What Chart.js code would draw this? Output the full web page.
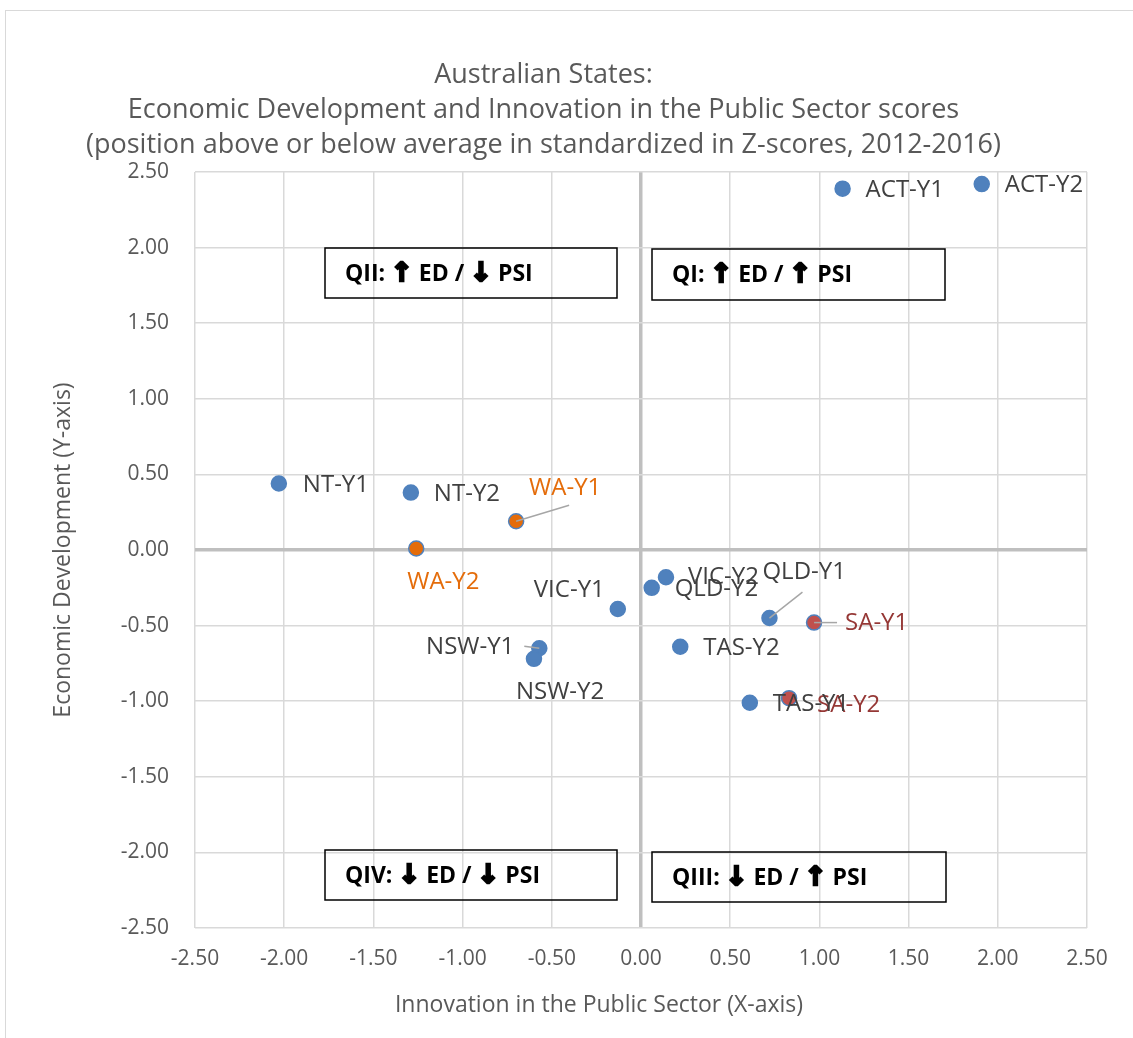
<!DOCTYPE html>
<html>
<head>
<meta charset="utf-8">
<script src="https://cdn.jsdelivr.net/npm/chart.js@4.4.0/dist/chart.umd.min.js"></script>
<style>
    html, body { margin: 0; padding: 0; background: #fff; overflow: hidden; }
    #frame { position: absolute; left: 5px; top: 10px; width: 1200px; height: 1100px; border: 1px solid #d9d9d9; }
    #wrap { position: absolute; left: 0; top: 0; width: 1133px; height: 1038px; }
</style>
</head>
<body>
<div id="frame"></div>
<div id="wrap"><canvas id="quadChart" width="1133" height="1038"></canvas></div>
<script>
// ================= DATA =================
const stateLabels = [
    "ACT-Y1","ACT-Y2","NT-Y1","NT-Y2","WA-Y1","WA-Y2","NSW-Y1","NSW-Y2",
    "VIC-Y1","VIC-Y2","QLD-Y1","QLD-Y2","SA-Y1","SA-Y2","TAS-Y1","TAS-Y2"
];
// Innovation in the Public Sector (x)
const innovationScores = [1.13, 1.91, -2.03, -1.29, -0.70, -1.26, -0.57, -0.60,
                          -0.13, 0.14, 0.72, 0.06, 0.97, 0.83, 0.61, 0.22];
// Economic Development (y)
const developmentScores = [2.39, 2.42, 0.44, 0.38, 0.19, 0.01, -0.65, -0.72,
                           -0.39, -0.18, -0.45, -0.25, -0.48, -0.98, -1.01, -0.64];
const axisTicks = [-2.5, -2.0, -1.5, -1.0, -0.5, 0, 0.5, 1.0, 1.5, 2.0, 2.5];
const titleLines = [
    "Australian States:",
    "Economic Development and Innovation in the Public Sector scores",
    "(position above or below average in standardized in Z-scores, 2012-2016)"
];
const quadrantTexts = ["QII: \u2191 ED / \u2193 PSI", "QI: \u2191 ED / \u2191 PSI",
                       "QIV: \u2193 ED / \u2193 PSI", "QIII: \u2193 ED / \u2191 PSI"];

// ================= STYLE =================
const BLUE = "#4f81bd";
const fillFor = (name) => name.startsWith("WA") ? "#e46c0a" : name.startsWith("SA") ? "#c0504d" : BLUE;
const textFor = (name) => name.startsWith("WA") ? "#e46c0a" : name.startsWith("SA") ? "#953735" : "#404040";

// label offset from the dot (px), optional leader line end
const labelPlacement = [
    { dx: 23, dy: 2 }, { dx: 23, dy: 1 }, { dx: 24, dy: 2 }, { dx: 23, dy: 2 },
    { dx: 13, dy: -33, leader: [53, -16] }, { dx: -9, dy: 34 },
    { dx: -25, dy: -1, align: "right", leader: [-15, -2] }, { dx: -18, dy: 33 },
    { dx: -13, dy: -19, align: "right" }, { dx: 22, dy: 0 },
    { dx: -7, dy: -46, leader: [33, -26] }, { dx: 23, dy: 1 },
    { dx: 31, dy: 1, leader: [23, 0] }, { dx: 28, dy: 7 },
    { dx: 23, dy: 1 }, { dx: 23, dy: 1 }
];
const quadrantBoxes = [
    { x: 325, y: 248, w: 292, h: 50 }, { x: 652, y: 249, w: 293, h: 51 },
    { x: 325, y: 850, w: 292, h: 50 }, { x: 652, y: 852, w: 294, h: 50 }
];

// ================= PLUGINS =================
const pointLabels = {
    id: "pointLabels",
    afterDatasetsDraw(chart) {
        const ctx = chart.ctx;
        const meta = chart.getDatasetMeta(0);
        ctx.save();
        ctx.font = "24px 'Open Sans'";
        ctx.textBaseline = "middle";
        meta.data.forEach((pt, i) => {
            const p = labelPlacement[i];
            if (p.leader) {
                ctx.strokeStyle = "#a6a6a6";
                ctx.lineWidth = 1.5;
                ctx.beginPath();
                ctx.moveTo(pt.x, pt.y);
                ctx.lineTo(pt.x + p.leader[0], pt.y + p.leader[1]);
                ctx.stroke();
            }
            ctx.fillStyle = textFor(stateLabels[i]);
            ctx.textAlign = p.align || "left";
            ctx.fillText(stateLabels[i], pt.x + p.dx, pt.y + p.dy);
        });
        ctx.restore();
    }
};

// draws text with the arrows heavier than the rest
function drawMixed(ctx, text, x, y) {
    const textFont = "bold 23px 'Open Sans'";
    const arrowFont = "bold 26px 'DejaVu Sans'";
    let cx = x;
    for (const ch of text) {
        const isArrow = ch === "\u2191" || ch === "\u2193";
        ctx.font = isArrow ? arrowFont : textFont;
        ctx.fillText(ch, cx, y);
        if (isArrow) {
            ctx.lineWidth = 2.5;
            ctx.strokeText(ch, cx, y);
        }
        cx += ctx.measureText(ch).width;
    }
}

const quadrantNotes = {
    id: "quadrantNotes",
    afterDraw(chart) {
        const ctx = chart.ctx;
        ctx.save();
        ctx.strokeStyle = "#000";
        ctx.fillStyle = "#000";
        ctx.textBaseline = "middle";
        ctx.textAlign = "left";
        quadrantBoxes.forEach((b, i) => {
            ctx.lineWidth = 1.5;
            ctx.strokeRect(b.x, b.y, b.w, b.h);
            drawMixed(ctx, quadrantTexts[i], b.x + 20, b.y + b.h / 2 + 1);
        });
        // x-axis title
        ctx.fillStyle = "#595959";
        ctx.font = "23px 'Open Sans'";
        ctx.textAlign = "center";
        ctx.fillText("Innovation in the Public Sector (X-axis)", 599, 1005);
        ctx.restore();
    }
};

// ================= CHART =================
const gridColor = (c) => c.tick && c.tick.value === 0 ? "#bfbfbf" : "#d9d9d9";
const gridWidth = (c) => c.tick && c.tick.value === 0 ? 3.5 : 1.5;
const setTicks = (scale) => { scale.ticks = axisTicks.map(v => ({ value: v })); };

new Chart(document.getElementById("quadChart"), {
    type: "scatter",
    data: {
        datasets: [{
            data: innovationScores.map((x, i) => ({ x: x, y: developmentScores[i] })),
            pointRadius: 7.5,
            pointHoverRadius: 7.5,
            pointBackgroundColor: stateLabels.map(fillFor),
            pointBorderColor: BLUE,
            pointBorderWidth: 1.5
        }]
    },
    options: {
        responsive: false,
        animation: false,
        devicePixelRatio: 1,
        layout: { padding: { left: 0, right: 46, top: 0, bottom: 0 } },
        plugins: {
            legend: { display: false },
            tooltip: { enabled: false },
            title: {
                display: true,
                text: titleLines,
                color: "#595959",
                font: { family: "'Open Sans'", size: 27, weight: "normal", lineHeight: 35 / 27 },
                padding: { top: 57.5, bottom: 9.5 }
            }
        },
        scales: {
            x: {
                type: "linear",
                min: -2.5, max: 2.5,
                afterBuildTicks: setTicks,
                afterFit: (s) => { s.height = 110; },
                grid: { color: gridColor, lineWidth: gridWidth, drawTicks: false },
                border: { display: false },
                ticks: {
                    color: "#595959",
                    font: { family: "'Open Sans'", size: 21 },
                    padding: 18,
                    maxRotation: 0,
                    callback: (v) => Number(v).toFixed(2)
                }
            },
            y: {
                type: "linear",
                min: -2.5, max: 2.5,
                afterBuildTicks: setTicks,
                afterFit: (s) => { s.width = 195; },
                grid: { color: gridColor, lineWidth: gridWidth, drawTicks: false },
                border: { display: false },
                title: {
                    display: true,
                    text: "Economic Development (Y-axis)",
                    color: "#595959",
                    font: { family: "'Open Sans'", size: 23 },
                    padding: { top: 50, bottom: 0 }
                },
                ticks: {
                    color: "#595959",
                    font: { family: "'Open Sans'", size: 21 },
                    padding: 26,
                    callback: (v) => Number(v).toFixed(2)
                }
            }
        }
    },
    plugins: [pointLabels, quadrantNotes]
});
</script>
</body>
</html>
